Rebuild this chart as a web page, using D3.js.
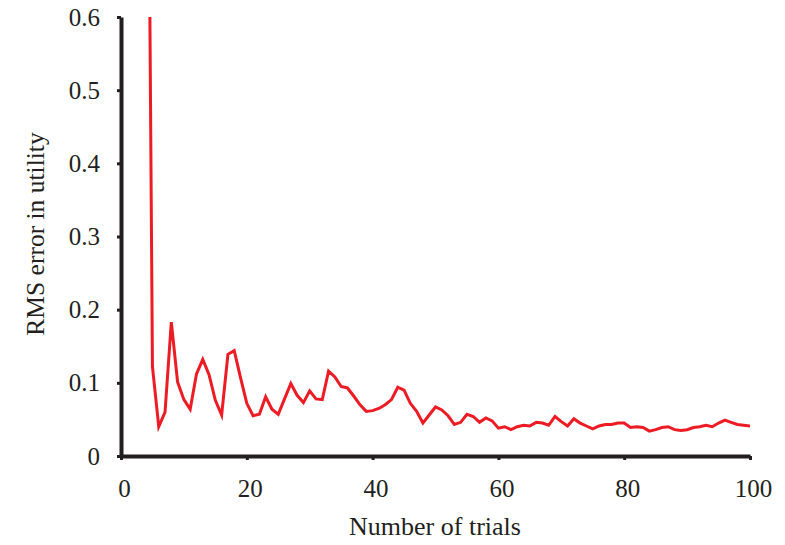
<!DOCTYPE html>
<html>
<head>
  <meta charset="utf-8">
  <script src="https://d3js.org/d3.v7.min.js"></script>
  <style>
    body { margin: 0; background: #fff; }
    text { font-family: "Liberation Serif", "DejaVu Serif", serif; fill: #231f20; }
  </style>
</head>
<body>
<script>
// trial numbers and RMS error (trial 4 runs off the top)
var trials = d3.range(4, 101);
var rmsError = [1.3, 0.122, 0.040, 0.060, 0.183, 0.101, 0.077, 0.064, 0.112, 0.132,
  0.111, 0.076, 0.056, 0.139, 0.144, 0.107, 0.072, 0.055, 0.057, 0.081,
  0.064, 0.057, 0.078, 0.099, 0.083, 0.073, 0.089, 0.078, 0.077, 0.116,
  0.108, 0.095, 0.093, 0.082, 0.070, 0.061, 0.062, 0.065, 0.070, 0.077,
  0.094, 0.090, 0.072, 0.061, 0.045, 0.056, 0.067, 0.063, 0.055, 0.043,
  0.046, 0.057, 0.054, 0.046, 0.052, 0.048, 0.038, 0.040, 0.036, 0.040,
  0.042, 0.041, 0.046, 0.045, 0.042, 0.054, 0.047, 0.041, 0.051, 0.045,
  0.041, 0.037, 0.041, 0.043, 0.043, 0.045, 0.045, 0.039, 0.040, 0.039,
  0.034, 0.036, 0.039, 0.040, 0.036, 0.035, 0.036, 0.039, 0.040, 0.042,
  0.040, 0.045, 0.049, 0.046, 0.043, 0.042, 0.041];
var xTicks = [0, 20, 40, 60, 80, 100];
var yTicks = [0, 0.1, 0.2, 0.3, 0.4, 0.5, 0.6];

var width = 785, height = 545;
var x = d3.scaleLinear().domain([0, 100]).range([121, 750]);
var y = d3.scaleLinear().domain([0, 0.6]).range([456, 17]);

var svg = d3.select("body").append("svg")
  .attr("width", width)
  .attr("height", height);

svg.append("clipPath").attr("id", "plot")
  .append("rect")
  .attr("x", x(0)).attr("y", y(0.6))
  .attr("width", x(100) - x(0)).attr("height", y(0) - y(0.6));

var line = d3.line()
  .x(function(d, i) { return x(trials[i]); })
  .y(function(d) { return y(d); });

svg.append("path")
  .datum(rmsError)
  .attr("clip-path", "url(#plot)")
  .attr("d", line)
  .attr("fill", "none")
  .attr("stroke", "#ed1c24")
  .attr("stroke-width", 3)
  .attr("stroke-linejoin", "miter");

var xAxis = svg.append("g")
  .attr("transform", "translate(0," + y(0) + ")")
  .call(d3.axisBottom(x).tickValues(xTicks).tickSize(4).tickSizeOuter(0).tickPadding(19));
var yAxis = svg.append("g")
  .attr("transform", "translate(" + x(0) + ",0)")
  .call(d3.axisLeft(y).tickValues(yTicks).tickSize(4).tickSizeOuter(0).tickPadding(17)
    .tickFormat(function(d) { return d === 0 ? "0" : d3.format(".1f")(d); }));

[xAxis, yAxis].forEach(function(g) {
  g.select(".domain").attr("stroke", "#231f20").attr("stroke-width", 4);
  g.selectAll(".tick line").attr("stroke", "#231f20").attr("stroke-width", 3);
  g.selectAll(".tick text")
    .attr("font-family", "Liberation Serif, serif")
    .attr("font-size", 25)
    .attr("fill", "#231f20");
});
xAxis.selectAll(".tick text").attr("dx", 3);

svg.append("text")
  .attr("x", 435)
  .attr("y", 535)
  .attr("text-anchor", "middle")
  .attr("font-size", 26)
  .text("Number of trials");

svg.append("text")
  .attr("transform", "translate(44,234) rotate(-90)")
  .attr("text-anchor", "middle")
  .attr("font-size", 25.5)
  .text("RMS error in utility");
</script>
</body>
</html>
